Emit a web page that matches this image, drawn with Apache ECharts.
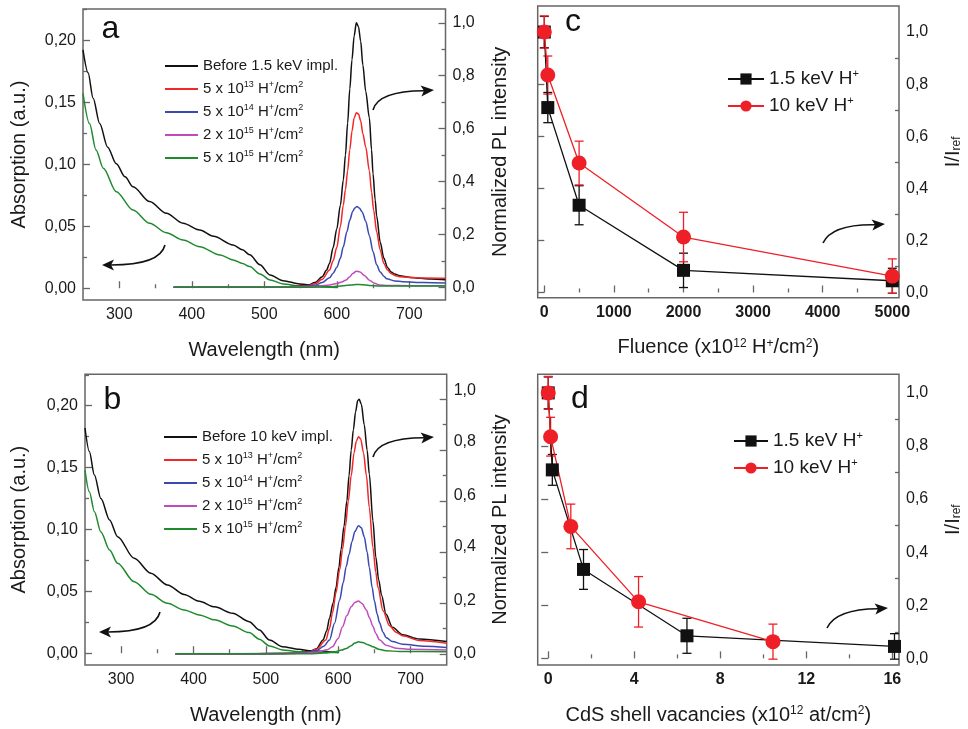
<!DOCTYPE html>
<html><head><meta charset="utf-8">
<script src="https://cdn.jsdelivr.net/npm/echarts@6/dist/echarts.min.js"></script>
<style>html,body{margin:0;padding:0;background:#fff}#chart{width:968px;height:729px}</style>
</head><body><div id="chart"></div>
<script>
// ---------------- DATA ----------------
const namesA = ['Before 1.5 keV impl.', '5 x 10^13 H+/cm2', '5 x 10^14 H+/cm2', '2 x 10^15 H+/cm2', '5 x 10^15 H+/cm2'];
const namesB = ['Before 10 keV impl.', '5 x 10^13 H+/cm2', '5 x 10^14 H+/cm2', '2 x 10^15 H+/cm2', '5 x 10^15 H+/cm2'];
const namesCD = ['1.5 keV H+', '10 keV H+'];

// Panel a: absorption (left axis), wavelength nm
const absA_black = [[250,0.1925],[257,0.174],[264,0.1535],[273,0.133],[284,0.114],[296,0.1005],[308,0.09],[319,0.082],[342,0.070],[365,0.0606],[388,0.0525],[411,0.047],[430,0.042],[457,0.035],[470,0.031],[480,0.027],[494,0.019],[508,0.0107],[526,0.0061],[549,0.0035],[572,0.0019],[600,0.0008]];
const absA_green = [[250,0.1575],[259,0.133],[268,0.1117],[278,0.097],[296,0.078],[319,0.0632],[342,0.0525],[365,0.0449],[388,0.039],[411,0.0336],[439,0.0269],[457,0.0229],[470,0.0200],[480,0.0175],[494,0.0116],[508,0.0067],[526,0.0035],[549,0.0019],[600,0.0005]];
// Panel a: PL (right axis)
const plA_black = [[375,0],[450,0],[520,0.001],[545,0.003],[560,0.008],[570,0.018],[580,0.04],[586,0.065],[590,0.09],[595,0.15],[600,0.22],[605,0.31],[609,0.405],[612,0.5],[615,0.62],[618,0.75],[621,0.86],[624,0.95],[627,1.0],[630,0.985],[633,0.93],[636,0.84],[640,0.74],[645,0.64],[648,0.52],[650,0.43],[653,0.33],[655,0.27],[660,0.17],[665,0.11],[670,0.075],[675,0.058],[680,0.05],[687,0.044],[700,0.038],[715,0.034],[730,0.031],[750,0.029]];
const plA_red = [[375,0],[450,0],[520,0.001],[545,0.003],[560,0.006],[570,0.013],[580,0.03],[590,0.065],[595,0.1],[600,0.15],[605,0.23],[609,0.31],[612,0.37],[615,0.44],[618,0.52],[621,0.59],[624,0.64],[627,0.66],[630,0.655],[633,0.63],[636,0.58],[640,0.53],[645,0.44],[648,0.36],[651,0.29],[655,0.21],[660,0.14],[665,0.09],[670,0.065],[675,0.052],[680,0.045],[687,0.04],[700,0.037],[720,0.035],[750,0.034]];
const plA_blue = [[375,0],[450,0],[530,0.001],[555,0.003],[570,0.008],[580,0.018],[590,0.036],[595,0.053],[600,0.075],[605,0.11],[609,0.153],[614,0.21],[618,0.254],[622,0.287],[625,0.3],[628,0.305],[631,0.3],[635,0.285],[640,0.25],[645,0.195],[650,0.135],[655,0.085],[660,0.058],[665,0.042],[669,0.032],[680,0.024],[691,0.021],[720,0.018],[750,0.016]];
const plA_mag = [[375,0],[450,0],[550,0.001],[575,0.004],[590,0.009],[600,0.014],[607,0.02],[613,0.028],[618,0.04],[622,0.052],[627,0.061],[632,0.058],[638,0.045],[645,0.027],[652,0.015],[659,0.009],[670,0.007],[700,0.006],[750,0.006]];
const plA_green = [[375,0],[560,0],[590,0.002],[610,0.006],[620,0.009],[627,0.011],[635,0.010],[645,0.007],[660,0.005],[700,0.005],[750,0.005]];

// Panel b
const absB_black = [[250,0.182],[256,0.163],[263,0.144],[272,0.125],[284,0.1077],[295,0.0942],[318,0.0767],[341,0.0646],[364,0.0552],[387,0.0475],[408,0.042],[429,0.0375],[454,0.0323],[477,0.0255],[491,0.0188],[505,0.0107],[523,0.0053],[546,0.0032],[560,0.0021],[600,0.0005]];
const absB_green = [[250,0.148],[256,0.1305],[263,0.1144],[272,0.098],[284,0.0834],[295,0.0727],[318,0.0578],[341,0.0476],[364,0.0404],[387,0.035],[408,0.031],[429,0.027],[454,0.022],[477,0.0167],[491,0.0113],[505,0.0059],[523,0.0027],[546,0.0013],[600,0.0005]];
const plB_black = [[375,0],[450,0],[520,0.001],[545,0.003],[560,0.008],[570,0.02],[579,0.054],[584,0.09],[588,0.14],[593,0.2],[597,0.26],[601,0.34],[604,0.41],[608,0.5],[612,0.6],[615,0.7],[618,0.8],[621,0.88],[624,0.95],[627,0.995],[629,1.0],[632,0.98],[636,0.9],[640,0.8],[643,0.706],[648,0.523],[652,0.38],[656,0.29],[660,0.23],[666,0.156],[675,0.104],[689,0.075],[712,0.058],[750,0.048]];
const plB_red = [[375,0],[450,0],[520,0.001],[545,0.003],[560,0.007],[570,0.018],[583,0.054],[588,0.1],[592,0.159],[597,0.24],[602,0.33],[606,0.41],[610,0.5],[614,0.6],[618,0.7],[622,0.79],[625,0.835],[628,0.853],[631,0.845],[635,0.79],[639,0.7],[643,0.575],[648,0.418],[652,0.32],[655,0.261],[662,0.169],[671,0.11],[680,0.085],[689,0.071],[712,0.052],[750,0.041]];
const plB_blue = [[375,0],[450,0],[530,0.001],[555,0.004],[570,0.012],[580,0.03],[588,0.054],[595,0.12],[602,0.211],[607,0.28],[611,0.342],[615,0.39],[619,0.44],[623,0.48],[628,0.503],[632,0.495],[636,0.46],[640,0.4],[643,0.34],[647,0.26],[650,0.208],[654,0.155],[657,0.123],[662,0.085],[666,0.064],[675,0.048],[689,0.038],[720,0.03],[750,0.025]];
const plB_mag = [[375,0],[450,0],[550,0.002],[570,0.006],[585,0.016],[592,0.0275],[600,0.06],[606,0.106],[612,0.15],[618,0.185],[623,0.202],[628,0.207],[633,0.198],[639,0.172],[643,0.143],[648,0.108],[652,0.08],[657,0.055],[666,0.034],[680,0.022],[700,0.018],[750,0.015]];
const plB_green = [[375,0],[560,0],[580,0.003],[595,0.008],[605,0.015],[611,0.021],[618,0.032],[623,0.042],[628,0.047],[634,0.044],[641,0.036],[648,0.0275],[656,0.018],[666,0.012],[685,0.009],[750,0.008]];

// Panels c & d: normalized PL intensity
const fluenceX = [0, 50, 500, 2000, 5000];
const vacBlackX = [0, 0.19, 1.64, 6.45, 16.1];
const vacRedX = [0, 0.11, 1.05, 4.2, 10.45];
const blackI = [1.0, 0.71, 0.335, 0.085, 0.045];
const blackErr = [0.06, 0.058, 0.075, 0.066, 0.048];
const redI = [1.0, 0.835, 0.497, 0.213, 0.063];
const redErr = [0.062, 0.073, 0.084, 0.095, 0.066];

// tick labels
const wlTicks = [300, 400, 500, 600, 700];
const absTicks = [0, 0.05, 0.10, 0.15, 0.20];
const plTicks = [0, 0.2, 0.4, 0.6, 0.8, 1.0];
const fluTicks = [0, 1000, 2000, 3000, 4000, 5000];
const vacTicks = [0, 4, 8, 12, 16];

// ---------------- STYLE ----------------
const FONT = "'Liberation Sans', Arial, Helvetica, sans-serif";
const FRAME = '#666';
const TXT = '#1a1a1a';
const C = {black:'#111111', red:'#f0282a', blue:'#3a48b0', mag:'#c04cbc', green:'#1f8a2e', mred:'#ee1f26'};
const comma = (v, d) => v.toFixed(d).replace('.', ',');

const grids = [
  {left:83, top:9, width:362.5, height:291},
  {left:85, top:374.3, width:361.7, height:290.7},
  {left:537.7, top:6, width:361.3, height:291.7},
  {left:537.7, top:374.3, width:361.3, height:290.7}
].map(g => Object.assign({show:true, borderColor:FRAME, borderWidth:1.5, backgroundColor:'transparent'}, g));

const xAxes = [], yAxes = [];
const nameStyle = {fontFamily:FONT, fontSize:20, color:TXT,
  rich:{sup:{fontFamily:FONT, fontSize:12, lineHeight:12, verticalAlign:'top', color:TXT},
        sub:{fontFamily:FONT, fontSize:12, lineHeight:10, verticalAlign:'bottom', color:TXT}}};
function tickStyle(len, vals){ return {show:true, inside:true, length:len, customValues:vals, lineStyle:{color:FRAME, width:1.3}}; }
function addX(grid, min, max, majors, minors, fmt, bold, name, gap){
  const idx = xAxes.length;
  xAxes.push({type:'value', gridIndex:grid, min, max, position:'bottom',
    axisLine:{show:false}, splitLine:{show:false}, axisTick:tickStyle(7, majors),
    axisLabel:{customValues:majors, margin:7, fontFamily:FONT, fontSize:16, color:TXT, fontWeight:bold?'bold':'normal', formatter:fmt},
    name, nameLocation:'middle', nameGap:gap, nameTextStyle:nameStyle});
  xAxes.push({type:'value', gridIndex:grid, min, max, position:'bottom',
    axisLine:{show:false}, splitLine:{show:false}, axisTick:tickStyle(4, minors), axisLabel:{show:false}});
  return idx;
}
function addY(grid, pos, min, max, majors, minors, label, name, gap){
  const idx = yAxes.length;
  yAxes.push({type:'value', gridIndex:grid, min, max, position:pos,
    axisLine:{show:false}, splitLine:{show:false},
    axisTick: majors.length ? tickStyle(7, majors) : {show:false},
    axisLabel: label ? Object.assign({customValues:majors, margin:7, fontFamily:FONT, fontSize:16, color:TXT}, label) : {show:false},
    name, nameLocation:'middle', nameGap:gap, nameRotate:90, nameTextStyle:nameStyle});
  if (minors.length) yAxes.push({type:'value', gridIndex:grid, min, max, position:pos,
    axisLine:{show:false}, splitLine:{show:false}, axisTick:tickStyle(4, minors), axisLabel:{show:false}});
  return idx;
}
const intFmt = v => String(Math.round(v));
// panel b right labels sit slightly above their ticks in the original
const bShift = [0, 2.7, 5, 5.7, 8.3, 9];
const bRich = {};
bShift.forEach((s, i) => { bRich['s'+i] = {fontFamily:FONT, fontSize:16, color:TXT, padding:[0,0,2*s,0]}; });

const xa = addX(0, 250, 750, wlTicks, [350,450,550,650], intFmt, false, 'Wavelength (nm)', 40);
const xb = addX(1, 250, 750, wlTicks, [350,450,550,650], intFmt, false, 'Wavelength (nm)', 40);
const xc = addX(2, -95, 5096, fluTicks, [500,1500,2500,3500,4500], intFmt, true, 'Fluence (x10{sup|12} H{sup|+}/cm{sup|2})', 40);
const xd = addX(3, -0.49, 16.31, vacTicks, [2,6,10,14], intFmt, true, 'CdS shell vacancies (x10{sup|12} at/cm{sup|2})', 40);

const yaL = addY(0, 'left', -0.0095, 0.2256, absTicks, [0.025,0.075,0.125,0.175,0.225], {formatter:v=>comma(v,2)}, 'Absorption (a.u.)', 54);
const yaR = addY(0, 'right', -0.048, 1.052, plTicks, [0.1,0.3,0.5,0.7,0.9], {formatter:v=>comma(v,1)}, '', 0);
const ybL = addY(1, 'left', -0.0095, 0.2254, absTicks, [0.025,0.075,0.125,0.175,0.225], {formatter:v=>comma(v,2)}, 'Absorption (a.u.)', 56);
const ybR = addY(1, 'right', -0.044, 1.098, plTicks, [0.1,0.3,0.5,0.7,0.9], {formatter:v=>'{s'+Math.round(v*5)+'|'+comma(v,1)+'}', rich:bRich}, '', 0);
const ycL = addY(2, 'left', -0.02, 1.1, [], [], null, 'Normalized PL intensity', 27);
const ycR = addY(2, 'right', -0.02, 1.1, plTicks, [0.1,0.3,0.5,0.7,0.9], {formatter:v=>comma(v,1)}, 'I/I{sub|ref}', 44);
const ydL = addY(3, 'left', -0.025, 1.07, [], [], null, 'Normalized PL intensity', 27);
const ydR = addY(3, 'right', -0.025, 1.07, plTicks, [0.1,0.3,0.5,0.7,0.9], {formatter:v=>comma(v,1)}, 'I/I{sub|ref}', 44);

// ---------------- SERIES ----------------
function spec(name, data, color, xi, yi){
  return {type:'line', name, data, xAxisIndex:xi, yAxisIndex:yi, symbol:'none', smooth:0.3, smoothMonotone:'x',
    lineStyle:{color, width:1.5}, itemStyle:{color}, silent:true, animation:false};
}
function pts(name, xs, ys, color, sym, size, xi, yi){
  return {type:'line', name, data:xs.map((x,i)=>[x, ys[i]]), xAxisIndex:xi, yAxisIndex:yi,
    symbol:sym, symbolSize:size, showSymbol:true, lineStyle:{color, width:1.3}, itemStyle:{color}, silent:true, animation:false};
}
function errs(name, xs, ys, es, color, xi, yi){
  return {type:'custom', name, xAxisIndex:xi, yAxisIndex:yi, data:xs.map((x,i)=>[x, ys[i], es[i]]),
    encode:{x:0, y:1}, silent:true, animation:false,
    renderItem:(params, api) => {
      const x = api.value(0), y = api.value(1), e = api.value(2);
      const t = api.coord([x, y+e]), b = api.coord([x, y-e]), w = 4.5;
      const st = {stroke:color, lineWidth:1.3};
      return {type:'group', children:[
        {type:'line', shape:{x1:t[0], y1:t[1], x2:b[0], y2:b[1]}, style:st},
        {type:'line', shape:{x1:t[0]-w, y1:t[1], x2:t[0]+w, y2:t[1]}, style:st},
        {type:'line', shape:{x1:b[0]-w, y1:b[1], x2:b[0]+w, y2:b[1]}, style:st}]};
    }};
}
const series = [
  spec('abs a black', absA_black, C.black, xa, yaL),
  spec('abs a green', absA_green, C.green, xa, yaL),
  spec(namesA[0], plA_black, C.black, xa, yaR),
  spec(namesA[1], plA_red, C.red, xa, yaR),
  spec(namesA[2], plA_blue, C.blue, xa, yaR),
  spec(namesA[3], plA_mag, C.mag, xa, yaR),
  spec(namesA[4], plA_green, C.green, xa, yaR),
  spec('abs b black', absB_black, C.black, xb, ybL),
  spec('abs b green', absB_green, C.green, xb, ybL),
  spec(namesB[0], plB_black, C.black, xb, ybR),
  spec(namesB[1], plB_red, C.red, xb, ybR),
  spec(namesB[2], plB_blue, C.blue, xb, ybR),
  spec(namesB[3], plB_mag, C.mag, xb, ybR),
  spec(namesB[4], plB_green, C.green, xb, ybR),
  errs('err c black', fluenceX, blackI, blackErr, C.black, xc, ycL),
  pts(namesCD[0], fluenceX, blackI, C.black, 'rect', 13, xc, ycL),
  errs('err c red', fluenceX, redI, redErr, C.mred, xc, ycL),
  pts(namesCD[1], fluenceX, redI, C.mred, 'circle', 15, xc, ycL),
  errs('err d black', vacBlackX, blackI, blackErr, C.black, xd, ydL),
  pts(namesCD[0], vacBlackX, blackI, C.black, 'rect', 13, xd, ydL),
  errs('err d red', vacRedX, redI, redErr, C.mred, xd, ydL),
  pts(namesCD[1], vacRedX, redI, C.mred, 'circle', 15, xd, ydL)
];

// ---------------- LEGENDS ----------------
const legFmt = n => n.replace(/\^(\d+)/, '{sup|$1}').replace('H+', 'H{sup|+}').replace('cm2', 'cm{sup|2}');
function legText(size, lh, supSize, pad){
  return {fontFamily:FONT, fontSize:size, lineHeight:lh, color:TXT, padding:[0,0,0,pad],
    rich:{sup:{fontFamily:FONT, fontSize:supSize, lineHeight:supSize, verticalAlign:'top', color:TXT}}};
}
const legends = [
  {data:namesA, left:160, top:52, orient:'vertical', icon:'rect', itemWidth:33, itemHeight:2, itemGap:5, selectedMode:false, formatter:legFmt, textStyle:legText(15,18,9,0)},
  {data:namesB, left:159, top:423, orient:'vertical', icon:'rect', itemWidth:33, itemHeight:2, itemGap:5, selectedMode:false, formatter:legFmt, textStyle:legText(15,18,9,0)},
  {data:namesCD, left:722, top:63, orient:'vertical', itemWidth:36, itemHeight:14, itemGap:5, selectedMode:false, formatter:legFmt, textStyle:legText(19,22,11,0)},
  {data:namesCD, left:728, top:425, orient:'vertical', itemWidth:34, itemHeight:14, itemGap:5, selectedMode:false, formatter:legFmt, textStyle:legText(19,22,11,0)}
];

// ---------------- ANNOTATIONS ----------------
function arrow(s, c, e, t){
  const dx = t[0]-e[0], dy = t[1]-e[1], L = Math.hypot(dx, dy), ux = dx/L, uy = dy/L, nx = -uy, ny = ux, w = 5.5;
  const notch = [e[0]+ux*3, e[1]+uy*3];
  return [
    {type:'bezierCurve', shape:{x1:s[0], y1:s[1], x2:notch[0], y2:notch[1], cpx1:c[0], cpy1:c[1]}, style:{stroke:'#111', lineWidth:1.6, fill:null}},
    {type:'polygon', shape:{points:[t, [e[0]+nx*w, e[1]+ny*w], notch, [e[0]-nx*w, e[1]-ny*w]]}, style:{fill:'#111'}}
  ];
}
const letter = (txt, x, y) => ({type:'text', x, y, style:{text:txt, fontFamily:FONT, fontSize:32, fill:'#111', align:'center', verticalAlign:'middle'}});
const graphic = [].concat(
  arrow([165,245],[160,265],[114,265],[102,265]),
  arrow([373,110],[378,91],[421,91],[434,90]),
  arrow([160,612],[155,632],[111,632],[99,632]),
  arrow([373,457],[378,438],[421,438],[434,437]),
  arrow([823,243],[832,224],[872,225],[885,224]),
  arrow([827,628],[836,609],[875,609],[888,608]),
  [letter('a', 110.5, 29), letter('b', 112.5, 400), letter('c', 573, 22), letter('d', 580, 399)]
);

const chart = echarts.init(document.getElementById('chart'), null, {renderer:'canvas'});
chart.setOption({
  animation:false, backgroundColor:'#fff',
  grid:grids, xAxis:xAxes, yAxis:yAxes, legend:legends, series, graphic
});
</script></body></html>
